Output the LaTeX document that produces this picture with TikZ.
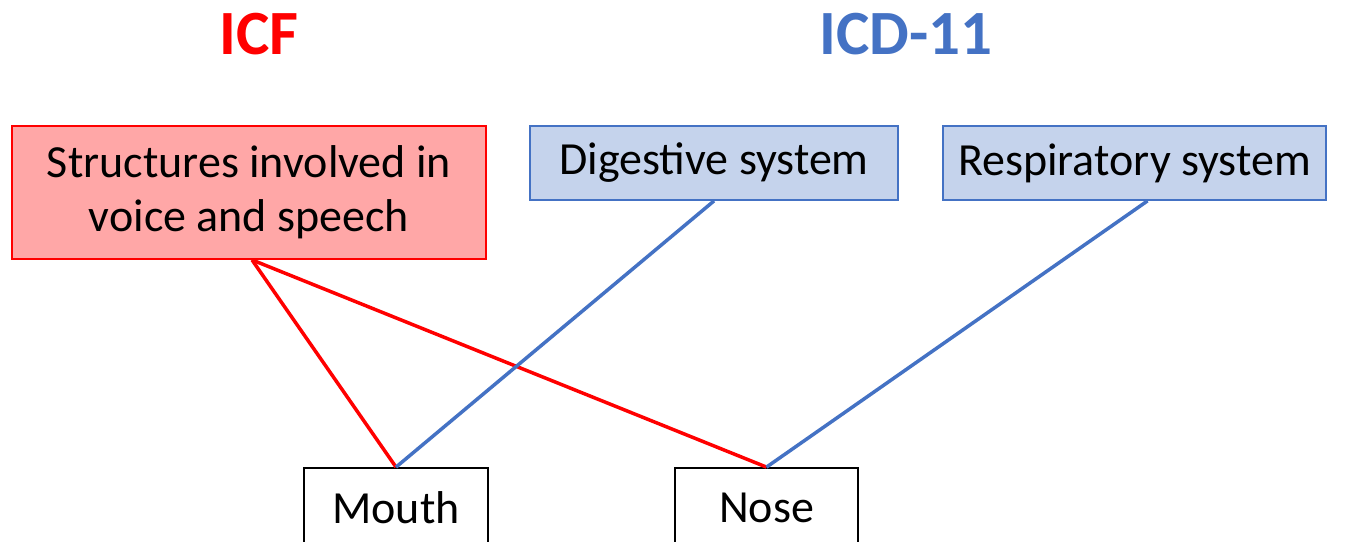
\documentclass[tikz,border=0pt]{standalone}
\usepackage{fontspec}
\setmainfont{Carlito}
\definecolor{icfred}{HTML}{FF0000}
\definecolor{icdblue}{HTML}{4472C4}
\definecolor{redfill}{HTML}{FFA7A7}
\definecolor{bluefill}{HTML}{C5D3EC}
\begin{document}
\begin{tikzpicture}[x=1pt,y=-1pt,
  boxtext/.style={font=\fontsize{46}{54}\selectfont, align=center, inner sep=0pt},
  icfbox/.style={boxtext, draw=icfred, fill=redfill, line width=1.8pt},
  icdbox/.style={boxtext, draw=icdblue, fill=bluefill, line width=1.8pt},
  organbox/.style={boxtext, draw=black, fill=white, line width=1.8pt},
  title/.style={font=\fontsize{63}{65}\selectfont\bfseries, inner sep=0pt},
  redline/.style={draw=icfred, line width=3.5pt},
  blueline/.style={draw=icdblue, line width=3.5pt}]
\clip (0,0) rectangle (1357,541);
\node[title, text=icfred] (icf) at (259,34) {ICF};
\node[title, text=icdblue] (icd) at (906,34) {ICD-11};
\node[icfbox, minimum width=474pt, minimum height=133pt] (struct) at (249,192.5) {Structures involved in\\voice and speech};
\node[icdbox, minimum width=368pt, minimum height=74pt] (dig) at (714,163) {Digestive system};
\node[icdbox, minimum width=383pt, minimum height=74pt] (resp) at (1134.5,163) {Respiratory system};
\node[organbox, minimum width=184pt, minimum height=80pt] (mouth) at (396,508) {Mouth};
\node[organbox, minimum width=183pt, minimum height=80pt] (nose) at (766.5,508) {Nose};
\coordinate (respfoot) at ([xshift=13pt]resp.south);
\draw[redline] ([xshift=3pt]struct.south) -- (mouth.north);
\draw[redline] ([xshift=3pt]struct.south) -- (nose.north);
\draw[blueline] (dig.south) -- (mouth.north);
\draw[blueline] (respfoot) -- (nose.north);
\end{tikzpicture}
\end{document}
